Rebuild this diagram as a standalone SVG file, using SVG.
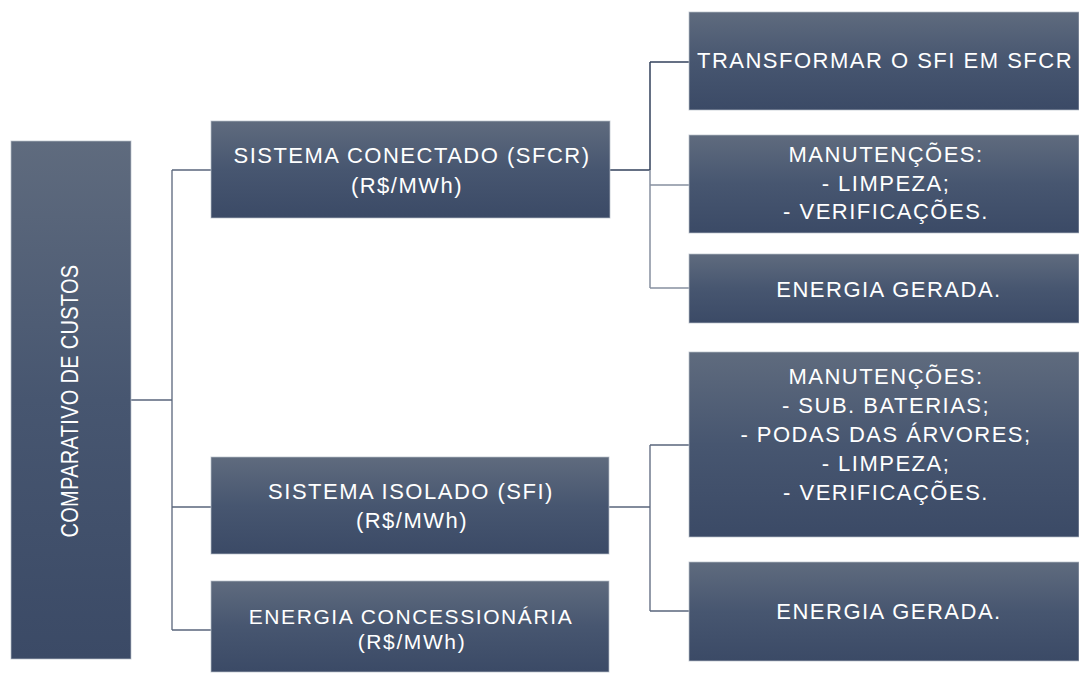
<svg xmlns="http://www.w3.org/2000/svg" width="1079" height="673" viewBox="0 0 1079 673">
<defs>
<linearGradient id="g" x1="0" y1="0" x2="0" y2="1">
<stop offset="0" stop-color="#5f6b7e"/>
<stop offset="0.5" stop-color="#475670"/>
<stop offset="1" stop-color="#3b4a66"/>
</linearGradient>
<style>
.box{fill:url(#g);stroke:#b9c0ca;stroke-width:1;stroke-opacity:0.7}
.t{font-family:"Liberation Sans",Arial,sans-serif;font-size:22px;fill:#ffffff;text-anchor:middle;letter-spacing:1.5px}
.ts{font-family:"Liberation Sans",Arial,sans-serif;font-size:21px;fill:#ffffff;text-anchor:middle;letter-spacing:1.6px}
.rt{font-family:"Liberation Sans",Arial,sans-serif;font-size:20px;fill:#ffffff;text-anchor:middle;letter-spacing:0.3px}
.c{fill:none;stroke:#5a667c;stroke-width:1.3}
.cd{fill:none;stroke:#33425c;stroke-width:1.5}
.cl{fill:none;stroke:#8690a0;stroke-width:1.5}
</style>
</defs>
<rect width="1079" height="673" fill="#ffffff"/>
<g id="connectors">
<path class="c" d="M131,400 H172 M172,170 V630 M172,170 H211 M172,507 H211 M172,630 H211"/>
<path class="cd" d="M610,170 H650 M650,62 V170 M650,62 H689"/>
<path class="cl" d="M650,170 V288 M650,185 H689 M650,288 H689"/>
<path class="c" d="M609,507 H650 M650,445 V611 M650,445 H689 M650,611 H689"/>
</g>
<g id="root">
<rect class="box" x="11" y="141" width="120" height="518"/>
<text class="rt" transform="translate(78,401) rotate(-90) scale(1,1.15)">COMPARATIVO DE CUSTOS</text>
</g>
<g id="sfcr">
<rect class="box" x="211" y="121" width="399" height="97"/>
<text class="t" x="412" y="163">SISTEMA CONECTADO (SFCR)</text>
<text class="t" x="407" y="193">(R$/MWh)</text>
</g>
<g id="sfi">
<rect class="box" x="211" y="457" width="398" height="97"/>
<text class="t" x="411" y="499">SISTEMA ISOLADO (SFI)</text>
<text class="t" x="412" y="528">(R$/MWh)</text>
</g>
<g id="concessionaria">
<rect class="box" x="211" y="581" width="398" height="91"/>
<text class="ts" x="411" y="624">ENERGIA CONCESSIONÁRIA</text>
<text class="ts" x="412" y="649">(R$/MWh)</text>
</g>
<g id="transformar">
<rect class="box" x="689" y="12" width="390" height="98"/>
<text class="t" x="885" y="68">TRANSFORMAR O SFI EM SFCR</text>
</g>
<g id="manut-sfcr">
<rect class="box" x="689" y="135" width="390" height="98"/>
<text class="t" x="886" y="162">MANUTENÇÕES:</text>
<text class="t" x="886" y="191">- LIMPEZA;</text>
<text class="t" x="886" y="219">- VERIFICAÇÕES.</text>
</g>
<g id="energia-sfcr">
<rect class="box" x="689" y="254" width="390" height="69"/>
<text class="t" x="889" y="297">ENERGIA GERADA.</text>
</g>
<g id="manut-sfi">
<rect class="box" x="689" y="352" width="390" height="185"/>
<text class="t" x="886" y="384">MANUTENÇÕES:</text>
<text class="t" x="886" y="413">- SUB. BATERIAS;</text>
<text class="t" x="886" y="442">- PODAS DAS ÁRVORES;</text>
<text class="t" x="886" y="471">- LIMPEZA;</text>
<text class="t" x="886" y="500">- VERIFICAÇÕES.</text>
</g>
<g id="energia-sfi">
<rect class="box" x="689" y="562" width="390" height="99"/>
<text class="t" x="889" y="619">ENERGIA GERADA.</text>
</g>
</svg>
